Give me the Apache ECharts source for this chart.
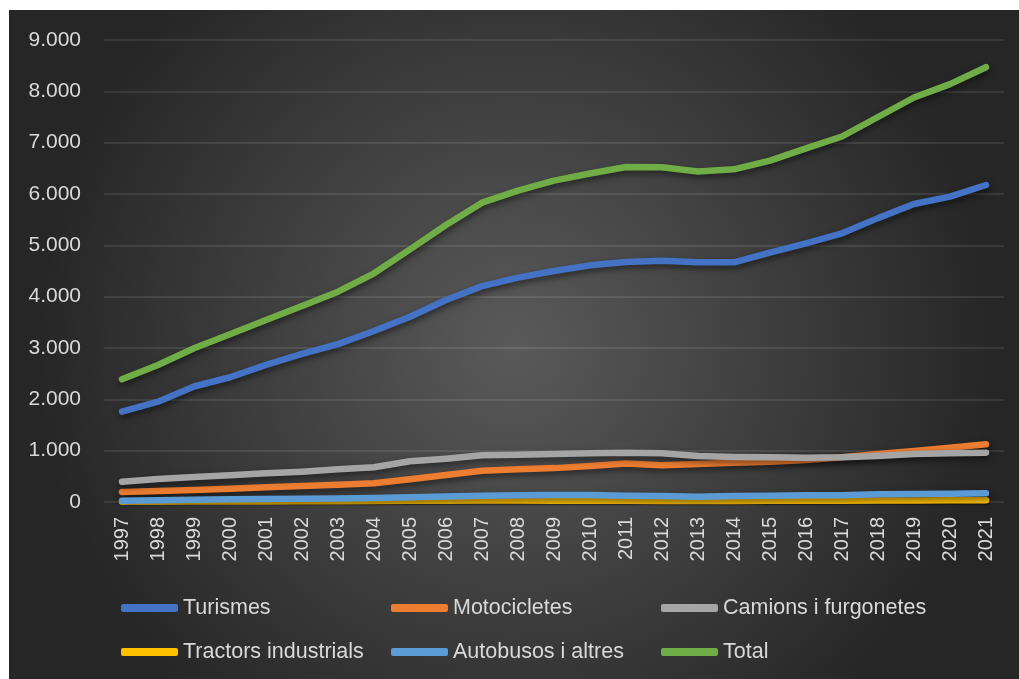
<!DOCTYPE html>
<html>
<head>
<meta charset="utf-8">
<script src="https://cdn.jsdelivr.net/npm/echarts@6/dist/echarts.min.js"></script>
<style>
  html, body { margin: 0; padding: 0; background: #ffffff; }
  #chart { width: 1019px; height: 679px; }
</style>
</head>
<body>
<div id="chart"></div>
<script>
// Parc de vehicles per tipus (milers), 1997-2021
const years = ['1997','1998','1999','2000','2001','2002','2003','2004','2005','2006','2007','2008','2009',
               '2010','2011','2012','2013','2014','2015','2016','2017','2018','2019','2020','2021'];

const turismes     = [1760, 1955, 2250, 2430, 2670, 2885, 3075, 3330, 3610, 3935, 4205, 4370, 4500,
                      4610, 4675, 4700, 4670, 4670, 4860, 5040, 5235, 5530, 5805, 5950, 6175];
const motocicletes = [195, 214, 234, 260, 286, 312, 338, 364, 442, 526, 610, 640, 660,
                      700, 750, 715, 740, 765, 786, 818, 870, 935, 994, 1058, 1123];
const camions      = [396, 448, 487, 520, 559, 590, 636, 676, 793, 844, 910, 922, 935,
                      948, 961, 948, 896, 877, 870, 863, 870, 896, 935, 948, 961];
const tractors     = [5, 6, 8, 10, 12, 14, 16, 19, 22, 25, 28, 27, 24,
                      22, 22, 20, 19, 20, 22, 24, 26, 28, 30, 32, 35];
const autobusos    = [25, 35, 45, 52, 58, 64, 70, 78, 92, 108, 123, 130, 136,
                      136, 120, 117, 104, 117, 123, 130, 130, 149, 156, 162, 169];
const total        = [2390, 2669, 2994, 3267, 3546, 3818, 4097, 4455, 4922, 5396, 5831, 6065, 6260,
                      6400, 6525, 6520, 6440, 6480, 6650, 6890, 7120, 7500, 7880, 8140, 8470];

const yTickLabels = ['0','1.000','2.000','3.000','4.000','5.000','6.000','7.000','8.000','9.000'];

const seriesNames = ['Turismes','Motocicletes','Camions i furgonetes','Tractors industrials','Autobusos i altres','Total'];
const seriesData  = [turismes, motocicletes, camions, tractors, autobusos, total];
const colors      = ['#4472C4','#ED7D31','#A5A5A5','#FFC000','#5B9BD5','#70AD47'];

const textColor = '#d9d9d9';
const font = '"Liberation Sans", Arial, sans-serif';

// Legend laid out as a 3 x 2 grid: one legend component per entry
const legendCols = [116, 386, 656];
const legendRows = [592, 636];
const legends = seriesNames.map((name, i) => ({
  left: legendCols[i % 3],
  top: legendRows[Math.floor(i / 3)],
  data: [name],
  itemWidth: 57,
  itemHeight: 8,
  icon: 'roundRect',
  selectedMode: false,
  textStyle: { color: textColor, fontSize: 21.5, fontFamily: font }
}));

const chart = echarts.init(document.getElementById('chart'), null, { renderer: 'canvas' });

chart.setOption({
  animation: false,
  color: colors,
  graphic: [{
    type: 'rect',
    z: -10,
    silent: true,
    shape: { x: 9, y: 10, width: 1010, height: 669 },
    style: {
      fill: new echarts.graphic.RadialGradient(0.5, 0.5, 0.72, [
        { offset: 0, color: '#5a5a5a' },
        { offset: 1, color: '#262626' }
      ])
    }
  }],
  grid: { left: 104, right: 15, top: 40, bottom: 177, containLabel: false },
  legend: legends,
  xAxis: {
    type: 'category',
    data: years,
    boundaryGap: true,
    axisLine: { show: false },
    axisTick: { show: false },
    axisLabel: { color: textColor, fontSize: 20, fontFamily: font, rotate: 90, margin: 15, interval: 0 }
  },
  yAxis: {
    type: 'value',
    min: 0,
    max: 9000,
    interval: 1000,
    axisLine: { show: false },
    axisTick: { show: false },
    splitLine: { lineStyle: { color: 'rgba(255,255,255,0.13)', width: 1.5 } },
    axisLabel: {
      color: textColor, fontSize: 21, fontFamily: font, margin: 23,
      formatter: v => yTickLabels[Math.round(v / 1000)]
    }
  },
  series: seriesNames.map((name, i) => ({
    name: name,
    type: 'line',
    data: seriesData[i],
    showSymbol: false,
    symbol: 'none',
    smooth: false,
    itemStyle: { color: colors[i] },
    lineStyle: {
      color: colors[i],
      width: 6.5,
      cap: 'round',
      join: 'round',
      shadowColor: 'rgba(0,0,0,0.5)',
      shadowBlur: 6,
      shadowOffsetX: 1,
      shadowOffsetY: 3
    }
  }))
});
</script>
</body>
</html>
